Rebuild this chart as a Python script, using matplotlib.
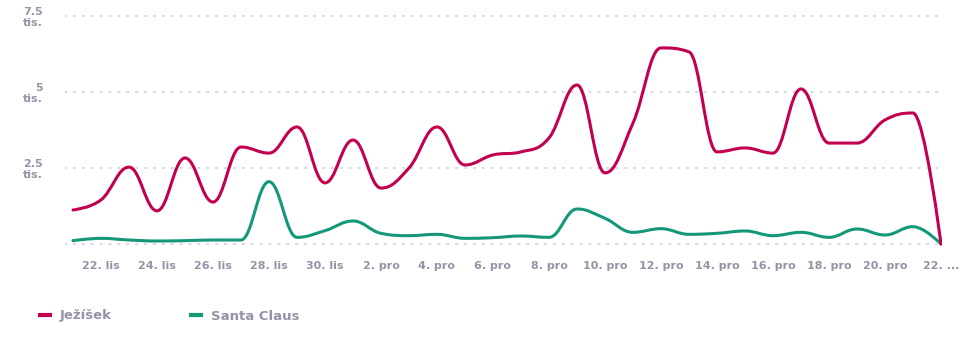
import numpy as np
import matplotlib
matplotlib.use("Agg")
import matplotlib.pyplot as plt
import matplotlib.transforms as mtransforms
from matplotlib.path import Path
from matplotlib.patches import PathPatch
from matplotlib.lines import Line2D

# daily values 21. lis .. 22. pro
days = list(range(32))
jezisek = [1120, 1450, 2530, 1090, 2830, 1380, 3190, 2990, 3850, 2010,
           3420, 1840, 2500, 3850, 2600, 2930, 3030, 3490, 5230, 2340,
           3980, 6450, 6320, 3030, 3160, 2990, 5100, 3320, 3320, 4080,
           4310, 0]
santa = [110, 186, 132, 99, 110, 132, 132, 2050, 219, 439,
         757, 351, 274, 318, 186, 208, 263, 219, 1151, 844,
         384, 504, 318, 351, 428, 274, 384, 219, 493, 296,
         570, 0]
tick_pos = list(range(1, 32, 2))
tick_labels = ["22. lis", "24. lis", "26. lis", "28. lis", "30. lis",
               "2. pro", "4. pro", "6. pro", "8. pro", "10. pro",
               "12. pro", "14. pro", "16. pro", "18. pro", "20. pro", "22. ..."]
y_ticks = [2500, 5000, 7500]
y_labels = ["2.5\ntis.", "5\ntis.", "7.5\ntis."]

RED = "#c2004f"
GREEN = "#15977a"
GREY = "#9394a8"


def spline_path(xs, ys, smoothing=1.5):
    # Highcharts-style spline control points
    denom = smoothing + 1
    n = len(xs)
    conts = []
    for i in range(n):
        px, py = xs[i], ys[i]
        if 0 < i < n - 1:
            lx, ly = xs[i - 1], ys[i - 1]
            nx, ny = xs[i + 1], ys[i + 1]
            lcx = (smoothing * px + lx) / denom
            lcy = (smoothing * py + ly) / denom
            rcx = (smoothing * px + nx) / denom
            rcy = (smoothing * py + ny) / denom
            corr = 0.0
            if rcx != lcx:
                corr = (rcy - lcy) * (rcx - px) / (rcx - lcx) + py - rcy
            lcy += corr
            rcy += corr
            if lcy > ly and lcy > py:
                lcy = max(ly, py)
                rcy = 2 * py - lcy
            elif lcy < ly and lcy < py:
                lcy = min(ly, py)
                rcy = 2 * py - lcy
            if rcy > ny and rcy > py:
                rcy = max(ny, py)
                lcy = 2 * py - rcy
            elif rcy < ny and rcy < py:
                rcy = min(ny, py)
                lcy = 2 * py - rcy
            conts.append(((lcx, lcy), (rcx, rcy)))
        else:
            conts.append(((px, py), (px, py)))
    verts = [(xs[0], ys[0])]
    codes = [Path.MOVETO]
    for i in range(1, n):
        verts += [conts[i - 1][1], conts[i][0], (xs[i], ys[i])]
        codes += [Path.CURVE4] * 3
    return Path(verts, codes)


W, H = 977, 348
fig = plt.figure(figsize=(W / 100, H / 100), dpi=100)
px_per_unit = 76 / 2500
ax_top, ax_bot = 8, 250
ax = fig.add_axes([65 / W, 1 - ax_bot / H, (942 - 65) / W, (ax_bot - ax_top) / H])
ax.set_xlim((65 - 73) / 28, (942 - 73) / 28)
ax.set_ylim(-(ax_bot - 244) / px_per_unit, 7500 + (16 - ax_top) / px_per_unit)

for v in [0] + y_ticks:
    ax.axhline(v, color="#d5d8e8", lw=1.6, ls=(0, (0.5, 3.5)), dash_capstyle="round", zorder=1)

for vals, col in [(santa, GREEN), (jezisek, RED)]:
    ax.add_patch(PathPatch(spline_path(days, vals), fill=False, edgecolor=col,
                           lw=2.2, capstyle="round", joinstyle="round", zorder=3))

for s in ax.spines.values():
    s.set_visible(False)
ax.set_xticks(tick_pos)
ax.set_xticklabels(tick_labels, fontsize=8, fontweight="bold", color=GREY)
ax.set_yticks(y_ticks)
ax.set_yticklabels(y_labels, fontsize=8, fontweight="bold", color=GREY,
                   linespacing=1.1, ha="right")
# nudge the two-line y labels slightly below their gridline
shift = mtransforms.ScaledTranslation(0, -2 / 100, fig.dpi_scale_trans)
for t in ax.get_yticklabels():
    t.set_transform(t.get_transform() + shift)
ax.tick_params(length=0, pad=8)
ax.tick_params(axis="y", pad=16)

handles = [Line2D([], [], color=RED, lw=3), Line2D([], [], color=GREEN, lw=3)]
leg = fig.legend(handles, ["Ježíšek", "Santa Claus"], loc="center left",
                 bbox_to_anchor=(40 / W, 1 - 316 / H), ncol=2, frameon=False,
                 borderpad=0, borderaxespad=0,
                 handlelength=0.76, handletextpad=0.76, columnspacing=6.0,
                 prop={"size": 9.5, "weight": "bold"})
for t in leg.get_texts():
    t.set_color(GREY)

fig.savefig("out.png", dpi=100)
